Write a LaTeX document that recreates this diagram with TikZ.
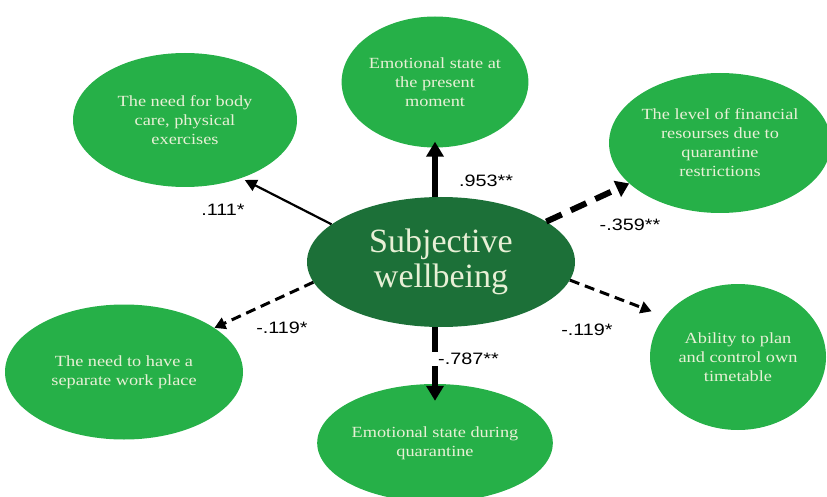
\documentclass[tikz,border=0pt]{standalone}
\usepackage{fontspec}
\setmainfont{Liberation Serif}
\newfontfamily\factorfont[FakeStretch=1.18]{Liberation Serif}
\newfontfamily\lblfont[FakeStretch=1.2]{Liberation Sans}
\usetikzlibrary{positioning, arrows.meta, shapes.geometric}

\definecolor{leafgreen}{RGB}{38,176,72}
\definecolor{deepgreen}{RGB}{28,112,56}
\definecolor{creamtext}{RGB}{232,240,214}

\tikzset{
    factor/.style={ellipse, fill=leafgreen, text=creamtext, align=center, inner sep=0pt,
        font=\factorfont\fontsize{15.5}{19}\selectfont},
    core/.style={ellipse, fill=deepgreen, text=creamtext, align=center, inner sep=0pt,
        font=\fontsize{34}{35}\selectfont},
    coef/.style={font=\lblfont\fontsize{16.5}{18}\selectfont, inner sep=1pt},
    strongarr/.style={line width=6pt, -{Triangle[length=15pt, width=17pt]}},
    thinarr/.style={line width=2.2pt, -{Triangle[length=12pt, width=12pt]}},
    boldarr/.style={line width=6pt, dash pattern=on 17pt off 10pt, -{Triangle[length=13pt, width=17pt]}},
    dasharr/.style={line width=3pt, dash pattern=on 10pt off 6pt, -{Triangle[length=11pt, width=12pt]}}
}

\begin{document}
\begin{tikzpicture}[x=1pt, y=-1pt]
    \useasboundingbox (0,0) rectangle (827,497);

    % Factors round the core
    \node[factor, minimum width=186pt, minimum height=131pt] (emonow) at (435,82)
        {Emotional state at\\the present\\moment};
    \node[factor, minimum width=224pt, minimum height=134pt] (body) at (185,120)
        {The need for body\\care, physical\\exercises};
    \node[factor, minimum width=214pt, minimum height=140pt] (fin) at (720,143)
        {The level of financial\\resourses due to\\quarantine\\restrictions};
    \node[factor, minimum width=238pt, minimum height=135pt] (wp) at (124,372)
        {The need to have a\\separate work place};
    \node[factor, minimum width=230pt, minimum height=118pt] (emoq) at (435,443)
        {Emotional state during\\quarantine};
    \node[factor, minimum width=176pt, minimum height=146pt] (plan) at (738,357)
        {Ability to plan\\and control own\\timetable};

    % Core
    \node[core, minimum width=268pt, minimum height=130pt] (swb) at (441,262)
        {Subjective\\wellbeing};

    % Connectors
    \draw[strongarr, shorten >=-6pt] (swb.north -| emonow.south) -- (emonow.south);
    \draw[thinarr, shorten >=4pt] (swb.161) -- (body.-46);
    \draw[boldarr] (swb.21) -- (fin.-156);
    \draw[dasharr] (swb.189) -- (wp.26);
    \draw[strongarr, shorten >=-17pt] (swb.south -| emoq.north) -- (emoq.north);
    \draw[dasharr, shorten >=14pt] (swb.-8) -- (plan.151);

    % Coefficients
    \node[coef] (c953) at (486,181) {.953**};
    \node[coef] (c111) at (223,210) {.111*};
    \node[coef] (c359) at (630,225) {-.359**};
    \node[coef] (c119a) at (282,328) {-.119*};
    \node[coef, fill=white, inner xsep=7pt, anchor=west] (c787) at (431,359) {-.787**};
    \node[coef] (c119b) at (587,330) {-.119*};
\end{tikzpicture}
\end{document}
